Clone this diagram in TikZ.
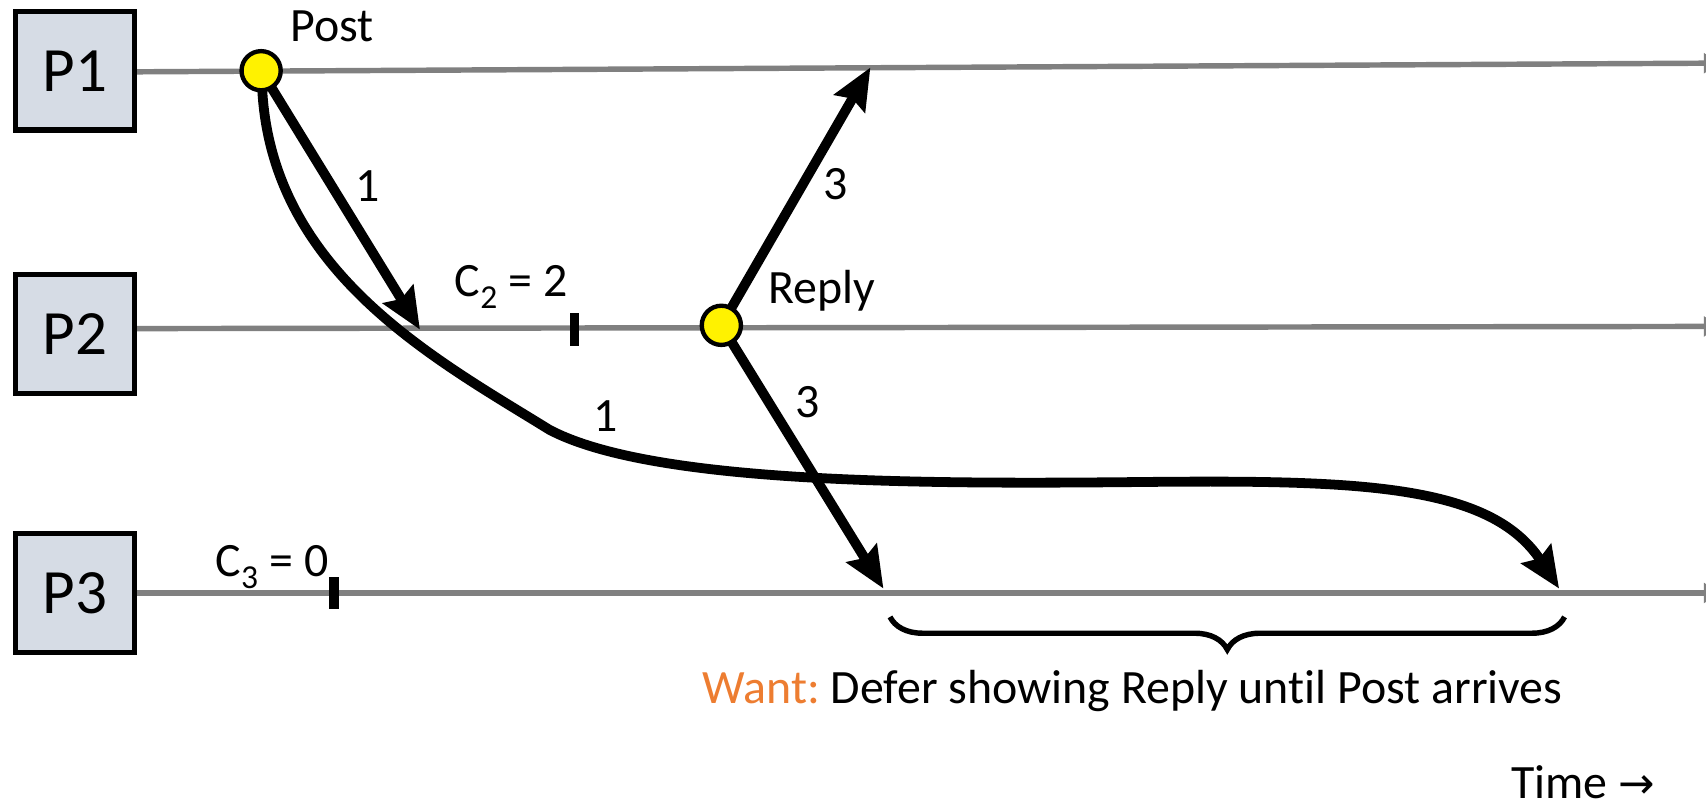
\documentclass[tikz,border=0pt]{standalone}
\usepackage{fontspec}
\setmainfont{Carlito}[Ligatures=NoCommon]
\newfontfamily\arrowfont{DejaVu Sans}
\usetikzlibrary{arrows.meta,decorations.pathreplacing}
\definecolor{boxfill}{HTML}{D6DCE5}
\definecolor{linegray}{HTML}{808080}
\definecolor{wantorange}{HTML}{ED7D31}
\begin{document}
\begin{tikzpicture}[x=1pt,y=-1pt,
  proc/.style={draw=black,line width=5pt,fill=boxfill,minimum size=109pt,inner sep=0pt,font=\fontsize{58}{62}\selectfont},
  timeline/.style={draw=linegray,line width=5pt,-{Triangle[length=14pt,width=18pt]}},
  event/.style={circle,draw=black,line width=4pt,fill=yellow,minimum size=36pt,inner sep=0pt},
  msg/.style={draw=black,line width=9pt,-{Stealth[length=38pt,width=32pt,inset=5pt]}},
  lbl/.style={font=\fontsize{44}{48}\selectfont,inner sep=0pt},
  tickmark/.style={fill=black,minimum width=9pt,minimum height=30pt,inner sep=0pt},
  bracestyle/.style={draw=black,line width=5pt,decorate,decoration={brace,mirror,amplitude=30pt}}]
\useasboundingbox (0,0) rectangle (1568,742);
\clip (0,0) rectangle (1568,742);
% processes
\node[proc] (p1) at (69,65) {P1};
\node[proc] (p2) at (69,307) {P2};
\node[proc] (p3) at (69,545) {P3};
% timeline ends
\coordinate (e1) at (1580,58);
\coordinate (e2) at (1580,300);
\coordinate (e3) at (1580,545);
\draw[timeline] (p1.east |- 0,66) -- (e1);
\draw[timeline] (p2.east |- 0,302) -- (e2);
\draw[timeline] (p3.east) -- (e3);
% ticks
\node[tickmark] (t2) at (528,303) {};
\node[tickmark] (t3) at (307,545) {};
\node[lbl] (c2) at (470,264) {C\textsubscript{2} = 2};
\node[lbl] (c3) at (250,521) {C\textsubscript{3} = 0};
% events
\coordinate (post0) at (240,65);
\coordinate (reply0) at (663,299);
\coordinate (a1tip) at (386,303);
\coordinate (c1tip) at (1433,541);
\coordinate (r1tip) at (800,62);
\coordinate (r3tip) at (812,541);
\draw[msg] (post0) -- (a1tip);
\draw[msg] (post0) ++(1,17) .. controls (250,250) and (400,330) .. (505,395)
   .. controls (600,445) and (850,445) .. (1050,443)
   .. controls (1250,441) and (1370,445) .. (c1tip);
\draw[msg] (reply0) -- (r1tip);
\draw[msg] (reply0) -- (r3tip);
\node[event] (post) at (post0) {};
\node[event] (reply) at (reply0) {};
\node[lbl] (postl) at (305,24) {Post};
\node[lbl] (replyl) at (755,267) {Reply};
\node[lbl] (l1a) at (338,171) {1};
\node[lbl] (l1b) at (557,382) {1};
\node[lbl] (l3a) at (768,169) {3};
\node[lbl] (l3b) at (742,370) {3};
% brace
\coordinate (bl) at (818,567);
\coordinate (br) at (1438,567);
\draw[bracestyle] (bl) -- (br);
\node[lbl] (want) at (1041,635) {\textcolor{wantorange}{Want:}~Defer showing Reply until Post arrives};
\node[lbl,anchor=base,text depth=0pt] (time) at (1455,734) {Time {\arrowfont\fontsize{40}{44}\selectfont →}};
\end{tikzpicture}
\end{document}
